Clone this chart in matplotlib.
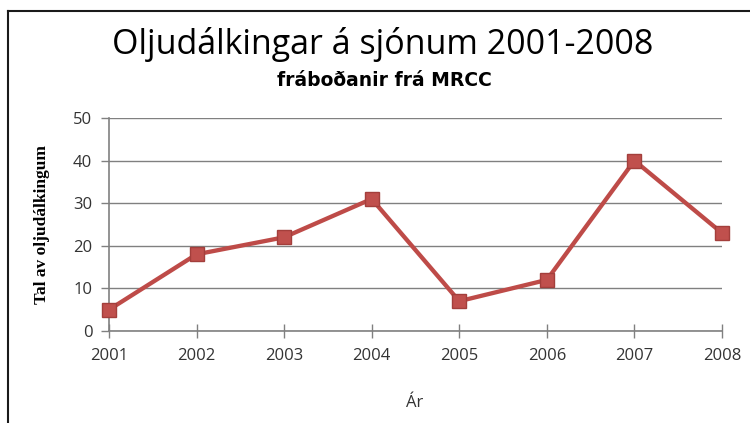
import matplotlib
matplotlib.use("Agg")
import matplotlib.pyplot as plt
from matplotlib.lines import Line2D

# data
years = ["2001", "2002", "2003", "2004", "2005", "2006", "2007", "2008"]
counts = [5, 18, 22, 31, 7, 12, 40, 23]
y_ticks = [0, 10, 20, 30, 40, 50]

W, H = 750, 423
fig = plt.figure(figsize=(W / 100, H / 100), dpi=100)
fig.patch.set_facecolor("white")

# chart frame (right and bottom edges are cut off in the original)
fig.add_artist(Line2D([8 / W, 8 / W], [0, 1 - 11 / H], color="#1a1a1a", lw=1.5))
fig.add_artist(Line2D([8 / W, 1], [1 - 11 / H, 1 - 11 / H], color="#1a1a1a", lw=1.5))

ax = fig.add_axes([109 / W, 1 - 331 / H, (722 - 109) / W, (331 - 118) / H])
x = list(range(len(years)))
ax.plot(x, counts, color="#BE4B48", lw=3.1, marker="s", markersize=10.5,
        markerfacecolor="#C0504D", markeredgecolor="#A33F3C", markeredgewidth=1,
        zorder=3, clip_on=False)

ax.set_xlim(0, len(years) - 1)
ax.set_ylim(0, 50)
ax.set_yticks(y_ticks)
ax.set_xticks(x)
ax.set_xticklabels(years)

ax.yaxis.grid(True, color="#808080", lw=1)
ax.set_axisbelow(True)
for s in ["top", "right"]:
    ax.spines[s].set_visible(False)
for s in ["left", "bottom"]:
    ax.spines[s].set_color("#808080")
    ax.spines[s].set_linewidth(1.2)

tick_font = "Open Sans"
ax.tick_params(axis="y", direction="out", length=6, color="#808080", width=1, pad=6,
               labelsize=12, labelcolor="#333333")
ax.tick_params(axis="x", direction="inout", length=10, color="#808080", width=1, pad=7,
               labelsize=12, labelcolor="#333333")
for lab in ax.get_xticklabels() + ax.get_yticklabels():
    lab.set_family(tick_font)

fig.text(383 / W, 1 - 45 / H, "Oljudálkingar á sjónum 2001-2008", ha="center", va="center",
         fontsize=24.5, family="Open Sans", color="black")
fig.text(384 / W, 1 - 81 / H, "fráboðanir frá MRCC", ha="center", va="center",
         fontsize=13.5, family="DejaVu Sans", fontweight="bold", color="black")
fig.text(42 / W, 1 - 224 / H, "Tal av oljudálkingum", ha="center", va="center", rotation=90,
         fontsize=12.5, family="Liberation Serif", fontweight="bold", color="black")
fig.text(415 / W, 1 - 403 / H, "Ár", ha="center", va="center",
         fontsize=12, family="Open Sans", color="#333333")

fig.savefig("out.png", dpi=100)
